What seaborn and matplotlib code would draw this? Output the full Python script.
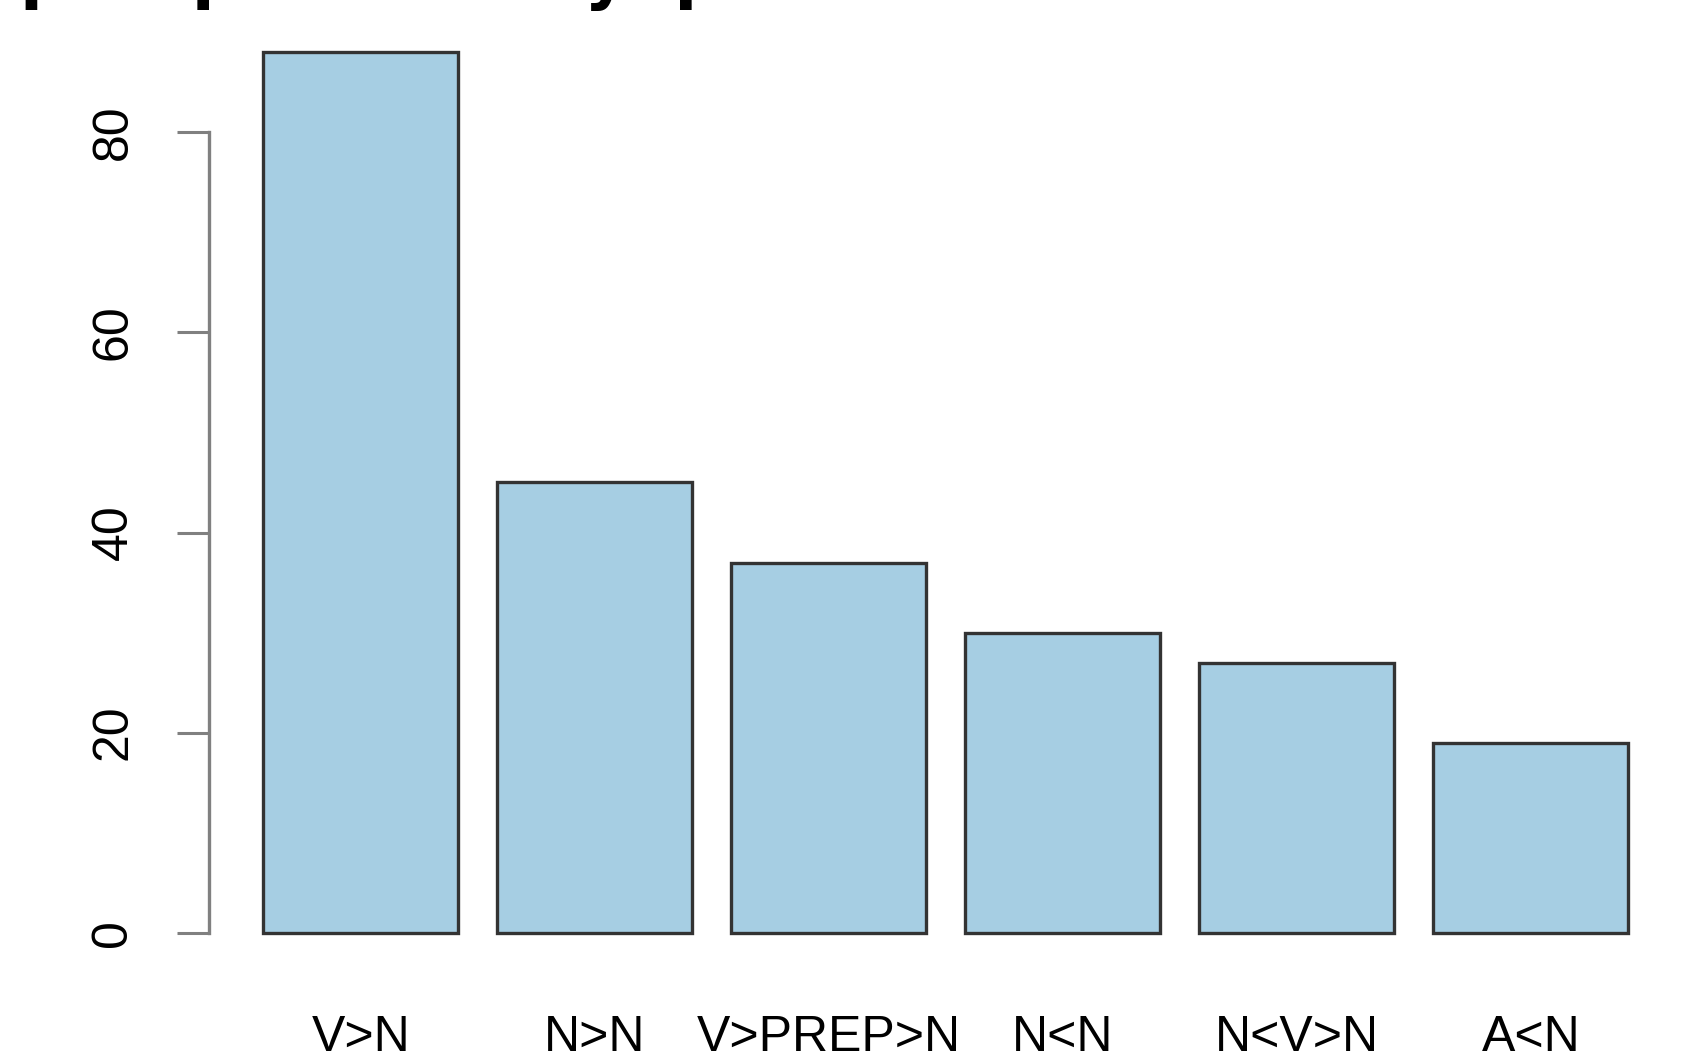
import matplotlib
matplotlib.use("Agg")
import matplotlib.pyplot as plt
import seaborn as sns

# data
categories = ["V>N", "N>N", "V>PREP>N", "N<N", "N<V>N", "A<N"]
counts = [88, 45, 37, 30, 27, 19]
y_ticks = [0, 20, 40, 60, 80]
title = "pair patterns by  position"

sns.set_style("white")
plt.rcParams["font.family"] = ["Liberation Sans", "DejaVu Sans"]
plt.rcParams["text.color"] = "black"
plt.rcParams["xtick.labelcolor"] = "black"
plt.rcParams["ytick.labelcolor"] = "black"

fig = plt.figure(figsize=(16.99, 10.62), dpi=100)
ax = fig.add_axes([0.1228, 0.0885, 0.8678, 0.8955])

sns.barplot(x=categories, y=counts, color="#A6CEE3", saturation=1,
            width=1 / 1.2, edgecolor="#333333", linewidth=2.4, ax=ax)

ax.set_xlim(-0.65, 5.65)
ax.set_ylim(-3.52, 91.52)

for side in ["top", "right", "bottom"]:
    ax.spines[side].set_visible(False)
ax.spines["left"].set_bounds(0, 80)
ax.spines["left"].set_color("#808080")
ax.spines["left"].set_linewidth(2.4)

ax.set_yticks(y_ticks)
ax.set_yticklabels([str(t) for t in y_ticks], rotation=90, va="center")
ax.tick_params(axis="y", length=23, width=2.2, color="#808080", pad=29,
               labelsize=36, left=True, labelcolor="black")
ax.tick_params(axis="x", length=0, pad=34, labelsize=36, labelcolor="black")
ax.set_xlabel("")
ax.set_ylabel("")

# title sits mostly above the canvas, only its descenders show
fig.text(0.012, 1 + 4 / 1062, title, fontsize=48, fontweight="bold",
         family="DejaVu Sans", va="baseline", ha="left", color="black")

fig.savefig("out.png", dpi=100)
